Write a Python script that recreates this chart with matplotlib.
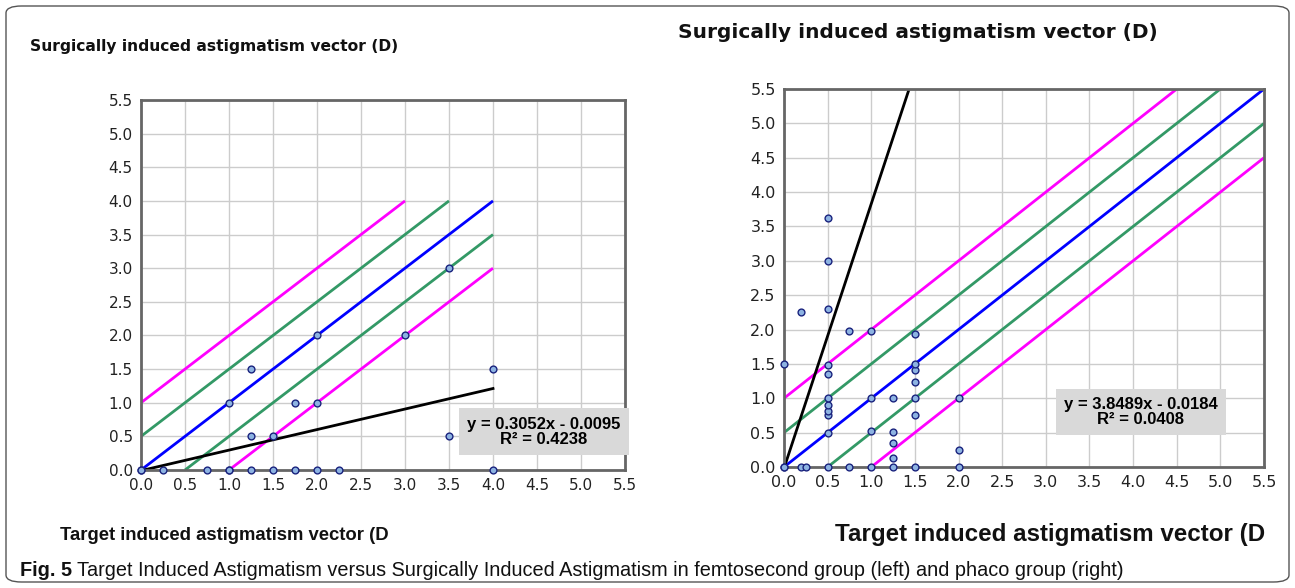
import numpy as np
import matplotlib.pyplot as plt
from matplotlib.patches import FancyBboxPatch

# femtosecond group (left)
femto_x = [0, 0, 0.25, 0.75, 1, 1, 1.25, 1.5, 1.75, 2, 2.25, 4,
           1, 1.25, 1.25, 1.5, 1.75, 2, 2, 3, 3.5, 3.5, 4]
femto_y = [0, 0, 0, 0, 0, 0, 0, 0, 0, 0, 0, 0,
           1, 1.5, 0.5, 0.5, 1, 1, 2, 2, 3, 0.5, 1.5]
femto_fit = (0.3052, -0.0095)
femto_r2 = 0.4238
femto_xmax = 4.0

# phaco group (right)
phaco_x = [0, 0, 0, 0.2, 0.25, 0.2,
           0.5, 0.5, 0.5, 0.5, 0.5, 0.5, 0.5, 0.5, 0.5, 0.5, 0.5,
           0.75, 0.75,
           1, 1, 1, 1,
           1.25, 1.25, 1.25, 1.25, 1.25,
           1.5, 1.5, 1.5, 1.5, 1.5, 1.5, 1.5,
           2, 2, 2]
phaco_y = [0, 0, 1.5, 0, 0, 2.25,
           0, 0.5, 0.75, 0.82, 0.9, 1.0, 1.36, 1.48, 2.3, 3.0, 3.63,
           0, 1.98,
           0, 0.52, 1.0, 1.98,
           0, 0.13, 0.35, 0.51, 1.0,
           0, 0.75, 1.0, 1.23, 1.41, 1.5, 1.94,
           0, 0.25, 1.0]
phaco_fit = (3.8489, -0.0184)
phaco_r2 = 0.0408
phaco_xmax = 5.5

W, H = 1295, 588
fig = plt.figure(figsize=(W / 100, H / 100), dpi=100)

# rounded frame round the whole figure
frame = FancyBboxPatch((6 / W, 6 / H), 1 - 12 / W, 1 - 12 / H,
                       boxstyle='round,pad=0,rounding_size=0.012',
                       transform=fig.transFigure, fill=False,
                       edgecolor='#555555', linewidth=1.0)
fig.patches.append(frame)

narrow = ['Liberation Sans Narrow', 'Liberation Sans', 'DejaVu Sans']


def panel(rect, xs, ys, fit, r2, xmax, box_xy, limit_band, tsize):
    ax = fig.add_axes([rect[0] / W, 1 - rect[3] / H,
                       (rect[2] - rect[0]) / W, (rect[3] - rect[1]) / H])
    ax.set_xlim(0, 5.5)
    ax.set_ylim(0, 5.5)
    ticks = np.arange(0, 5.51, 0.5)
    ax.set_xticks(ticks)
    ax.set_yticks(ticks)
    ax.set_xticklabels(['%.1f' % t for t in ticks])
    ax.set_yticklabels(['%.1f' % t for t in ticks])
    ax.tick_params(length=0, labelsize=tsize, colors='#222222', pad=6)
    ax.grid(True, color='#cccccc', linewidth=1.0)
    ax.set_axisbelow(True)
    for s in ax.spines.values():
        s.set_color('#666666')
        s.set_linewidth(2.0)

    # reference lines y = x + c
    top = limit_band
    for c, col in [(1, '#ff00ff'), (0.5, '#339966'), (0, '#0000ff'),
                   (-0.5, '#339966'), (-1, '#ff00ff')]:
        x0 = max(0, -c)
        x1 = min(top, top - c)
        ax.plot([x0, x1], [x0 + c, x1 + c], color=col, linewidth=2.0,
                solid_capstyle='butt')

    # linear trend
    a, b = fit
    xe = min(xmax, (5.5 - b) / a)
    ax.plot([0, xe], [a * 0 + b, a * xe + b], color='black', linewidth=2.0,
            clip_on=True)

    ax.scatter(xs, ys, s=24, facecolor='#8db3e2', edgecolor='#1a237e',
               linewidth=1.0, zorder=5, clip_on=False)

    ax.text(box_xy[0], box_xy[1],
            'y = %.4fx - %.4f\nR\u00b2 = %.4f' % (a, -b, r2),
            transform=ax.transData, ha='center', va='center',
            fontsize=12, fontweight='bold', family='Liberation Sans',
            linespacing=1.0, zorder=6, clip_on=False,
            bbox=dict(boxstyle='square,pad=0.5', facecolor='#d9d9d9',
                      edgecolor='none'))
    return ax


panel((141, 100, 625, 470), femto_x, femto_y, femto_fit, femto_r2,
      femto_xmax, (4.58, 0.57), 4.0, 11)
panel((784, 89, 1264, 467), phaco_x, phaco_y, phaco_fit, phaco_r2,
      phaco_xmax, (4.09, 0.80), 5.5, 11.5)

fig.text(30 / W, 1 - 46 / H, 'Surgically induced astigmatism vector (D)',
         fontsize=11.2, fontweight='bold', va='center', ha='left',
         color='#111111')
fig.text(678 / W, 1 - 33 / H, 'Surgically induced astigmatism vector (D)',
         fontsize=14.5, fontweight='bold', va='center', ha='left',
         color='#111111')
fig.text(60 / W, 1 - 535 / H, 'Target induced astigmatism vector (D',
         fontsize=13.3, fontweight='bold', va='center', ha='left',
         family=narrow, color='#111111')
fig.text(835 / W, 1 - 535 / H, 'Target induced astigmatism vector (D',
         fontsize=17.4, fontweight='bold', va='center', ha='left',
         family=narrow, color='#111111')

lab = fig.text(20 / W, 1 - 570 / H, 'Fig. 5', fontsize=14.3, fontweight='bold',
               va='center', ha='left', family=narrow, color='#111111')
fig.canvas.draw()
bb = lab.get_window_extent()
fig.text((bb.x1 + 5) / W, 1 - 570 / H,
         'Target Induced Astigmatism versus Surgically Induced Astigmatism '
         'in femtosecond group (left) and phaco group (right)',
         fontsize=14.3, va='center', ha='left', family=narrow, color='#111111')

fig.savefig('out.png', dpi=100)
